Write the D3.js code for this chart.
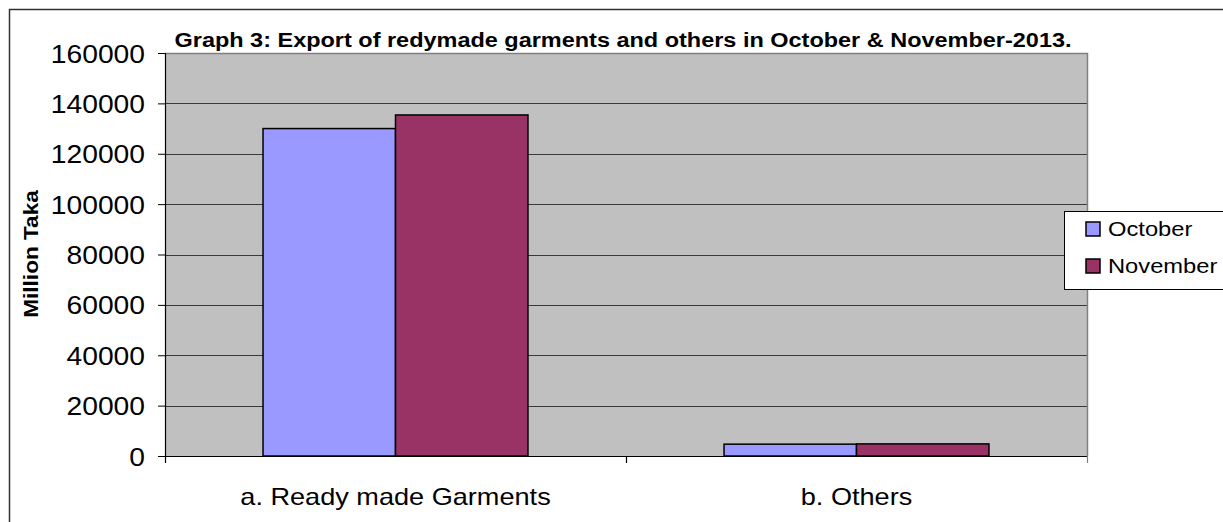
<!DOCTYPE html>
<html>
<head>
<meta charset="UTF-8" />
<title>Graph 3</title>
<script src="https://d3js.org/d3.v7.min.js"></script>
<style>
  body { margin: 0; background: #fff; }
  text { font-family: "Liberation Sans", Arial, sans-serif; fill: #000; }
</style>
</head>
<body>
<svg width="1223" height="522"></svg>
<script>
// data
const categories = ["a. Ready made Garments", "b. Others"];
const seriesNames = ["October", "November"];
const october = [130000, 4700];
const november = [135400, 4800];
const yTicks = [0, 20000, 40000, 60000, 80000, 100000, 120000, 140000, 160000];

const colors = { October: "#9999FF", November: "#993366" };
const values = { October: october, November: november };

// the original text is drawn a bit wider than plain Arial
const stretch = 1.13;

const svg = d3.select("svg");
const plot = { left: 165, right: 1087, top: 53, bottom: 456 };

// outer chart frame
svg.append("rect")
  .attr("x", 9.5).attr("y", 9.5)
  .attr("width", 1240).attr("height", 540)
  .attr("fill", "#fff").attr("stroke", "#333").attr("stroke-width", 1.5);

const x0 = d3.scaleBand().domain(categories).range([plot.left, plot.right]).padding(0);
const x1 = d3.scaleBand().domain(seriesNames).range([0, x0.bandwidth()]).paddingInner(0).paddingOuter(0.74);
const y = d3.scaleLinear().domain([0, 160000]).range([plot.bottom, plot.top]);

// plot background
svg.append("rect")
  .attr("x", plot.left).attr("y", plot.top)
  .attr("width", plot.right - plot.left).attr("height", plot.bottom - plot.top)
  .attr("fill", "#C0C0C0");

// gridlines
svg.append("g").selectAll("line")
  .data(yTicks.filter(d => d > 0 && d < 160000))
  .join("line")
  .attr("x1", plot.left).attr("x2", plot.right)
  .attr("y1", d => Math.round(y(d)) + 0.5).attr("y2", d => Math.round(y(d)) + 0.5)
  .attr("stroke", "#3a3a3a").attr("stroke-width", 1);

// plot border (top and right, gray)
svg.append("path")
  .attr("d", `M${plot.left},${plot.top + 0.5}H${plot.right + 0.5}V${plot.bottom}`)
  .attr("fill", "none").attr("stroke", "#808080").attr("stroke-width", 1.5);

// bars
const groups = svg.append("g").selectAll("g")
  .data(categories)
  .join("g")
  .attr("transform", d => `translate(${x0(d)},0)`);

groups.selectAll("rect")
  .data((c, i) => seriesNames.map(s => ({ s, v: values[s][i] })))
  .join("rect")
  .attr("x", d => x1(d.s))
  .attr("y", d => y(d.v))
  .attr("width", x1.bandwidth())
  .attr("height", d => y(0) - y(d.v))
  .attr("fill", d => colors[d.s])
  .attr("stroke", "#000").attr("stroke-width", 1.5);

// y axis
const yAxis = d3.axisLeft(y).tickValues(yTicks).tickSize(7).tickPadding(13).tickFormat(d3.format("d"));
const gy = svg.append("g").attr("transform", `translate(${plot.left},0)`).call(yAxis);
gy.select(".domain").attr("stroke", "#000").attr("stroke-width", 1.2);
gy.selectAll(".tick line").attr("stroke", "#000");
gy.selectAll(".tick text")
  .attr("font-size", 25).attr("font-family", "Liberation Sans, Arial, sans-serif")
  .attr("dy", "0.36em")
  .each(function () {
    const t = d3.select(this);
    const xx = +t.attr("x");
    t.attr("x", 0).attr("transform", `translate(${xx},0) scale(${stretch},1)`);
  });

// x axis: boundary ticks between categories
const xEdges = categories.map(c => x0(c)).concat([plot.right]);
svg.append("line")
  .attr("x1", plot.left).attr("x2", plot.right)
  .attr("y1", plot.bottom + 0.5).attr("y2", plot.bottom + 0.5)
  .attr("stroke", "#000").attr("stroke-width", 1.2);
svg.append("g").selectAll("line")
  .data(xEdges)
  .join("line")
  .attr("x1", d => d + 0.5).attr("x2", d => d + 0.5)
  .attr("y1", plot.bottom).attr("y2", plot.bottom + 7)
  .attr("stroke", d => d === plot.right ? "#808080" : "#000").attr("stroke-width", 1.2);

svg.append("g").selectAll("text")
  .data(categories)
  .join("text")
  .attr("transform", d => `translate(${x0(d) + x0.bandwidth() / 2},505) scale(${stretch},1)`)
  .attr("text-anchor", "middle")
  .attr("font-size", 24)
  .text(d => d);

// axis title
svg.append("text")
  .attr("transform", `translate(38,254) rotate(-90) scale(${stretch},1)`)
  .attr("text-anchor", "middle")
  .attr("font-size", 20).attr("font-weight", "bold")
  .text("Million Taka");

// chart title
svg.append("text")
  .attr("x", 623).attr("y", 47)
  .attr("text-anchor", "middle")
  .attr("font-size", 20).attr("font-weight", "bold")
  .attr("textLength", 897).attr("lengthAdjust", "spacingAndGlyphs")
  .text("Graph 3: Export of redymade garments and others in October & November-2013.");

// legend
const legend = svg.append("g").attr("transform", "translate(1064,211)");
legend.append("rect")
  .attr("x", 0.5).attr("y", 0.5).attr("width", 170).attr("height", 78)
  .attr("fill", "#fff").attr("stroke", "#000").attr("stroke-width", 1);
const items = legend.selectAll("g.item")
  .data(seriesNames)
  .join("g").attr("class", "item")
  .attr("transform", (d, i) => `translate(22,${11 + i * 37})`);
items.append("rect")
  .attr("width", 14).attr("height", 14)
  .attr("fill", d => colors[d]).attr("stroke", "#000").attr("stroke-width", 1.5);
items.append("text")
  .attr("transform", `translate(22,14) scale(${stretch},1)`)
  .attr("font-size", 21)
  .text(d => d);
</script>
</body>
</html>
